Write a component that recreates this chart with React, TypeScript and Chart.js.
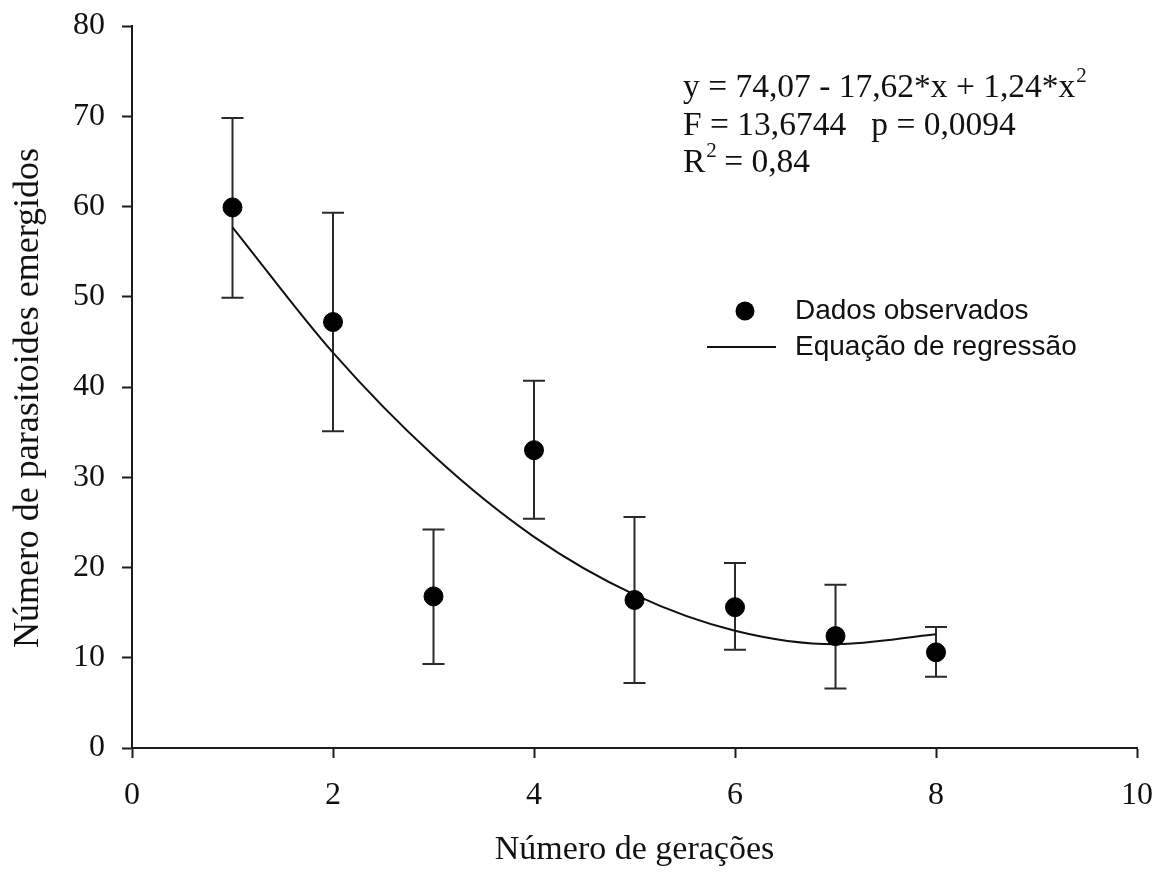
import React, { useEffect, useRef } from "react";
import { Chart, registerables } from "chart.js";

Chart.register(...registerables);

// ---- Data ----
const generations = [1, 2, 3, 4, 5, 6, 7, 8];
const observed = [59.9, 47.2, 16.8, 33.0, 16.4, 15.6, 12.4, 10.6];
const errorHigh = [69.8, 59.3, 24.2, 40.7, 25.6, 20.5, 18.1, 13.4];
const errorLow = [49.9, 35.1, 9.3, 25.4, 7.2, 10.9, 6.6, 7.9];
const fitted = [57.7, 43.8, 32.4, 23.4, 17.0, 13.0, 11.5, 12.6];

const xTickValues = [0, 2, 4, 6, 8, 10];
const yTickValues = [0, 10, 20, 30, 40, 50, 60, 70, 80];

const xTitle = "Número de gerações";
const yTitle = "Número de parasitoides emergidos";
const legendObserved = "Dados observados";
const legendFitted = "Equação de regressão";
const eqLine1 = "y = 74,07 - 17,62*x + 1,24*x";
const eqLine2 = "F = 13,6744   p = 0,0094";
const eqLine3a = "R";
const eqLine3b = " = 0,84";
const superscript = "2";

const SERIF = "'Liberation Serif', 'Times New Roman', serif";
const SANS = "'Liberation Sans', Arial, sans-serif";
const INK = "#111111";
const AXIS = "#1c1c1c";

const errorBarPlugin = {
  id: "errorBars",
  beforeDatasetsDraw(chart: any) {
    const { ctx, scales } = chart;
    const x = scales.x;
    const y = scales.y;
    ctx.save();
    ctx.strokeStyle = "#2a2a2a";
    ctx.lineWidth = 2;
    generations.forEach((g, i) => {
      const px = x.getPixelForValue(g);
      const top = y.getPixelForValue(errorHigh[i]);
      const bot = y.getPixelForValue(errorLow[i]);
      ctx.beginPath();
      ctx.moveTo(px, top);
      ctx.lineTo(px, bot);
      ctx.moveTo(px - 11, top);
      ctx.lineTo(px + 11, top);
      ctx.moveTo(px - 11, bot);
      ctx.lineTo(px + 11, bot);
      ctx.stroke();
    });
    ctx.restore();
  },
};

const annotationPlugin = {
  id: "annotations",
  afterDraw(chart: any) {
    const { ctx } = chart;
    ctx.save();
    ctx.fillStyle = INK;
    ctx.textBaseline = "alphabetic";
    ctx.textAlign = "left";
    const eqX = 683;
    const fs = 33.5;
    const sup = 21;
    // line 1
    ctx.font = `${fs}px ${SERIF}`;
    ctx.fillText(eqLine1, eqX, 97);
    const w1 = ctx.measureText(eqLine1).width;
    ctx.font = `${sup}px ${SERIF}`;
    ctx.fillText(superscript, eqX + w1 + 1, 82);
    // line 2
    ctx.font = `${fs}px ${SERIF}`;
    ctx.fillText(eqLine2, eqX, 135);
    // line 3
    ctx.fillText(eqLine3a, eqX, 172);
    const wr = ctx.measureText(eqLine3a).width;
    ctx.font = `${sup}px ${SERIF}`;
    ctx.fillText(superscript, eqX + wr + 1, 157);
    const ws = ctx.measureText(superscript).width;
    ctx.font = `${fs}px ${SERIF}`;
    ctx.fillText(eqLine3b, eqX + wr + ws, 172);

    // y-axis title (rotated)
    ctx.save();
    ctx.translate(29, 398);
    ctx.rotate(-Math.PI / 2);
    ctx.textAlign = "center";
    ctx.textBaseline = "middle";
    ctx.font = `36px ${SERIF}`;
    ctx.fillText(yTitle, 0, 0);
    ctx.restore();

    // legend
    ctx.beginPath();
    ctx.arc(745, 311, 9.5, 0, Math.PI * 2);
    ctx.fillStyle = "#000";
    ctx.fill();
    ctx.strokeStyle = "#111";
    ctx.lineWidth = 2;
    ctx.beginPath();
    ctx.moveTo(707, 347);
    ctx.lineTo(776, 347);
    ctx.stroke();
    ctx.fillStyle = INK;
    ctx.font = `28px ${SANS}`;
    ctx.textBaseline = "middle";
    ctx.fillText(legendObserved, 795, 311);
    ctx.fillText(legendFitted, 795, 347);
    ctx.restore();
  },
};

export default function App() {
  const canvasRef = useRef<HTMLCanvasElement | null>(null);

  useEffect(() => {
    const canvas = canvasRef.current;
    if (!canvas) return;
    const chart = new Chart(canvas, {
      type: "scatter",
      data: {
        datasets: [
          {
            label: legendObserved,
            data: generations.map((g, i) => ({ x: g, y: observed[i] })),
            backgroundColor: "#000",
            borderColor: "#000",
            pointRadius: 9.5,
            pointHoverRadius: 9.5,
            showLine: false,
          },
          {
            type: "line",
            label: legendFitted,
            data: generations.map((g, i) => ({ x: g, y: fitted[i] })),
            borderColor: "#111",
            borderWidth: 2,
            pointRadius: 0,
            fill: false,
            cubicInterpolationMode: "monotone",
          } as any,
        ],
      },
      options: {
        responsive: false,
        animation: false,
        events: [],
        layout: { padding: { top: 26, right: 20, bottom: 0, left: 0 } },
        plugins: {
          legend: { display: false },
          tooltip: { enabled: false },
        },
        scales: {
          x: {
            type: "linear",
            min: 0,
            max: 10,
            afterFit: (scale: any) => {
              scale.height = 130;
              scale.paddingLeft = 0;
              scale.paddingRight = 0;
            },
            afterBuildTicks: (scale: any) => {
              scale.ticks = xTickValues.map((v) => ({ value: v }));
            },
            grid: {
              display: true,
              drawOnChartArea: false,
              drawTicks: true,
              tickLength: 10,
              tickWidth: 2,
              tickColor: AXIS,
            },
            border: { display: true, color: AXIS, width: 2 },
            ticks: {
              color: INK,
              padding: 18,
              font: { family: SERIF, size: 32 },
            },
            title: {
              display: true,
              text: xTitle,
              color: INK,
              font: { family: SERIF, size: 34 },
              padding: { top: 0, bottom: 8 },
            },
          },
          y: {
            type: "linear",
            min: 0,
            max: 80,
            afterFit: (scale: any) => {
              scale.width = 132;
              scale.paddingTop = 0;
              scale.paddingBottom = 0;
            },
            afterBuildTicks: (scale: any) => {
              scale.ticks = yTickValues.map((v) => ({ value: v }));
            },
            grid: {
              display: true,
              drawOnChartArea: false,
              drawTicks: true,
              tickLength: 10,
              tickWidth: 2,
              tickColor: AXIS,
            },
            border: { display: true, color: AXIS, width: 2 },
            ticks: {
              color: INK,
              padding: 17,
              font: { family: SERIF, size: 32 },
            },
            title: { display: false },
          },
        },
      },
      plugins: [errorBarPlugin, annotationPlugin],
    });
    return () => chart.destroy();
  }, []);

  return (
    <div
      style={{
        position: "fixed",
        left: 0,
        top: 0,
        width: 1157,
        height: 878,
        background: "#fff",
      }}
    >
      <canvas ref={canvasRef} width={1157} height={878} style={{ display: "block" }} />
    </div>
  );
}
